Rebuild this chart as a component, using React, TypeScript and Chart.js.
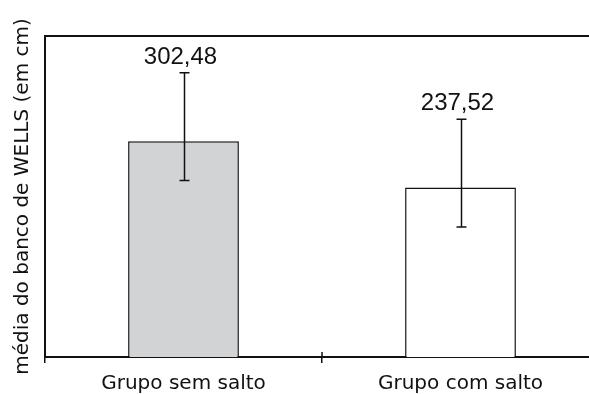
import React, { useEffect, useRef } from "react";
import { Chart, registerables } from "chart.js";

Chart.register(...registerables);

const categories = ["Grupo sem salto", "Grupo com salto"];
const means = [302.48, 237.52];
const errHigh = [398.5, 333.2];
const errLow = [247.5, 182.2];
const barColors = ["#d2d3d5", "#ffffff"];
const yTitle = "média do banco de WELLS (em cm)";

const LABEL_FONT = "'DejaVu Sans', sans-serif";
const NUM_FONT = "'Liberation Sans', Arial, sans-serif";

const errorBarPlugin = {
  id: "errorBars",
  afterDatasetsDraw(chart: any) {
    const ctx = chart.ctx;
    const meta = chart.getDatasetMeta(0);
    const y = chart.scales.y;
    ctx.save();
    ctx.strokeStyle = "#111";
    ctx.lineWidth = 1.5;
    meta.data.forEach((bar: any, i: number) => {
      const x = Math.round(bar.x) + 0.5;
      const yt = y.getPixelForValue(errHigh[i]);
      const yb = y.getPixelForValue(errLow[i]);
      ctx.beginPath();
      ctx.moveTo(x, yt);
      ctx.lineTo(x, yb);
      ctx.moveTo(x - 5, yt);
      ctx.lineTo(x + 5, yt);
      ctx.moveTo(x - 5, yb);
      ctx.lineTo(x + 5, yb);
      ctx.stroke();
      ctx.fillStyle = "#111";
      ctx.font = `24px ${NUM_FONT}`;
      ctx.textAlign = "center";
      ctx.textBaseline = "alphabetic";
      ctx.fillText(means[i].toFixed(2).replace(".", ","), bar.x - 3, yt - 9);
    });
    // middle tick crossing the axis
    const xs = chart.scales.x;
    const mid = (xs.getPixelForValue(0) + xs.getPixelForValue(1)) / 2;
    ctx.lineWidth = 1.5;
    ctx.beginPath();
    ctx.moveTo(mid, chart.chartArea.bottom - 5);
    ctx.lineTo(mid, chart.chartArea.bottom);
    ctx.stroke();
    ctx.restore();
  },
};

export default function App() {
  const ref = useRef<HTMLCanvasElement>(null);
  useEffect(() => {
    if (!ref.current) return;
    const chart = new Chart(ref.current, {
      type: "bar",
      data: {
        labels: categories,
        datasets: [
          {
            data: means,
            backgroundColor: barColors,
            borderColor: "#111",
            borderWidth: 1.5,
            barPercentage: 0.4,
            categoryPercentage: 1,
          },
        ],
      },
      options: {
        responsive: false,
        animation: false,
        layout: { padding: { left: 7, top: 36, right: 1, bottom: 0 } },
        plugins: { legend: { display: false }, tooltip: { enabled: false } },
        scales: {
          x: {
            grid: {
              display: true,
              drawOnChartArea: false,
              drawTicks: true,
              tickLength: 6,
              offset: true,
              color: "#111",
              lineWidth: 1.5,
            },
            border: { display: true, color: "#111", width: 2 },
            ticks: {
              color: "#111",
              font: { family: LABEL_FONT, size: 20 },
              padding: 9,
            },
            afterFit: (s: any) => {
              s.height = 37;
            },
          },
          x2: {
            position: "top",
            grid: { display: false, drawTicks: false },
            ticks: { display: false },
            border: { display: true, color: "#111", width: 2 },
          },
          y: {
            min: 0,
            max: 450,
            grid: { display: false },
            ticks: { display: false },
            border: { display: true, color: "#111", width: 2 },
            title: {
              display: true,
              text: yTitle,
              color: "#111",
              font: { family: LABEL_FONT, size: 20 },
              padding: { top: 4, bottom: 4 },
            },
            afterFit: (s: any) => {
              s.width = 38;
            },
          },
        },
      },
      plugins: [errorBarPlugin],
    } as any);
    return () => chart.destroy();
  }, []);
  return (
    <div
      style={{
        position: "fixed",
        top: 0,
        left: 0,
        width: 589,
        height: 394,
        overflow: "hidden",
        background: "#fff",
      }}
    >
      <canvas ref={ref} width={600} height={394} style={{ display: "block" }} />
    </div>
  );
}
